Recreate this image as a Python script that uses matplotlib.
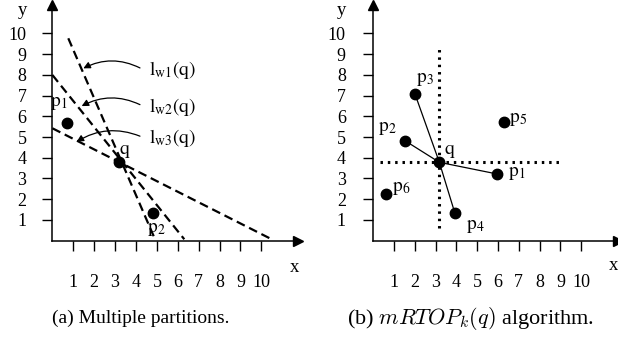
import matplotlib
matplotlib.use('Agg')
import matplotlib.pyplot as plt

plt.rcParams['font.family'] = ['Liberation Serif', 'DejaVu Serif']
plt.rcParams['mathtext.fontset'] = 'stix'

W, H = 618, 340

ticks = [1, 2, 3, 4, 5, 6, 7, 8, 9, 10]

# (a) multiple partitions
a_names = ['p_1', 'q', 'p_2']
a_x = [0.68, 3.2, 4.8]
a_y = [5.69, 3.78, 1.35]
a_label_x = [0.28, 3.47, 4.99]
a_label_y = [6.62, 4.29, 0.52]

line_names = ['l_{w1}(q)', 'l_{w2}(q)', 'l_{w3}(q)']
line_x0 = [0.76, 0.0, 0.0]
line_y0 = [9.76, 7.99, 5.42]
line_x1 = [4.91, 6.31, 10.49]
line_y1 = [0.07, 0.07, 0.07]
line_label_y = [8.23, 6.46, 4.94]
line_tip_x = [1.48, 1.4, 1.16]
line_tip_y = [8.31, 6.49, 4.77]

# (b) mRTOP_k(q)
b_names = ['p_1', 'p_2', 'p_3', 'p_4', 'p_5', 'p_6', 'q']
b_x = [5.94, 1.53, 2.01, 3.93, 6.29, 0.62, 3.18]
b_y = [3.22, 4.82, 7.07, 1.32, 5.71, 2.24, 3.78]
b_label_x = [6.9, 0.68, 2.5, 4.89, 6.98, 1.37, 3.66]
b_label_y = [3.25, 5.42, 7.75, 0.67, 5.82, 2.53, 4.29]
b_linked = ['p_1', 'p_2', 'p_3', 'p_4']

XLIM = (-2.5, 12.3)
YLIM = (-3.6, 11.6)


def make_panel(fig, ox, oy, sx, sy, ypad):
    # place axes so data (0,0) lands on pixel (ox, oy) of the figure
    left = (ox + sx * XLIM[0]) / W
    bottom = (H - (oy - sy * YLIM[0])) / H
    width = sx * (XLIM[1] - XLIM[0]) / W
    height = sy * (YLIM[1] - YLIM[0]) / H
    ax = fig.add_axes([left, bottom, width, height])
    ax.set_xlim(*XLIM)
    ax.set_ylim(*YLIM)
    ax.patch.set_visible(False)
    for side in ['top', 'right']:
        ax.spines[side].set_visible(False)
    ax.spines['left'].set_position(('data', 0))
    ax.spines['bottom'].set_position(('data', 0))
    ax.spines['bottom'].set_bounds(0, 11.7)
    ax.spines['left'].set_bounds(0, 11.3)
    for side in ['left', 'bottom']:
        ax.spines[side].set_linewidth(1.1)
    ax.set_xticks(ticks)
    ax.set_yticks(ticks)
    ax.tick_params(axis='x', direction='out', length=7.2, width=1,
                   pad=16.5, labelsize=13)
    ax.tick_params(axis='y', direction='out', length=7.2, width=1,
                   pad=ypad, labelsize=13)
    ax.plot(11.75, 0, marker='>', color='k', markersize=7, clip_on=False)
    ax.plot(0, 11.35, marker='^', color='k', markersize=7, clip_on=False)
    return ax


fig = plt.figure(figsize=(W / 100, H / 100), dpi=100)

# panel (a)
ax = make_panel(fig, 52.4, 240.7, 20.9, 20.74, 11.5)
ax.text(11.6, -1.27, 'x', fontsize=13.5, ha='center', va='center')
ax.text(-1.41, 11.12, 'y', fontsize=13.5, ha='center', va='center')
for x0, y0, x1, y1 in zip(line_x0, line_y0, line_x1, line_y1):
    ax.plot([x0, x1], [y0, y1], color='k', lw=1.6, dashes=(4, 2.2))
ax.plot(a_x, a_y, 'o', color='k', markersize=7.5)
for name, lx, ly in zip(a_names, a_label_x, a_label_y):
    ax.text(lx, ly, r'$\mathrm{%s}$' % name, fontsize=14,
            ha='center', va='center')
for name, ly, tx, ty in zip(line_names, line_label_y, line_tip_x, line_tip_y):
    ax.text(4.6, ly, r'$\mathrm{%s}$' % name, fontsize=14,
            ha='left', va='center')
    ax.annotate('', xy=(tx, ty), xytext=(4.19, ly + 0.1),
                arrowprops=dict(arrowstyle='-|>', color='k', lw=0.9,
                                shrinkA=0, shrinkB=0, mutation_scale=10,
                                connectionstyle='arc3,rad=0.25'))

# panel (b)
ax = make_panel(fig, 373.2, 240.7, 20.8, 20.74, 12.5)
ax.text(11.54, -1.18, 'x', fontsize=13.5, ha='center', va='center')
ax.text(-1.51, 11.1, 'y', fontsize=13.5, ha='center', va='center')
qx = b_x[b_names.index('q')]
qy = b_y[b_names.index('q')]
ax.plot([qx, qx], [0.6, 9.44], color='k', lw=2.2, dashes=(0.8, 1.6))
ax.plot([0.33, 9.14], [qy, qy], color='k', lw=2.2, dashes=(0.8, 1.6))
for name, x, y in zip(b_names, b_x, b_y):
    if name in b_linked:
        ax.plot([qx, x], [qy, y], color='k', lw=0.9)
ax.plot(b_x, b_y, 'o', color='k', markersize=7.5)
for name, lx, ly in zip(b_names, b_label_x, b_label_y):
    ax.text(lx, ly, r'$\mathrm{%s}$' % name, fontsize=14,
            ha='center', va='center')

fig.text(141 / W, 1 - 318 / H, '(a) Multiple partitions.', fontsize=14,
         ha='center', va='center')
fig.text(470 / W, 1 - 318 / H, r'(b) $mRTOP_k(q)$ algorithm.', fontsize=16,
         ha='center', va='center', math_fontfamily='cm')

fig.savefig('out.png', dpi=100)
